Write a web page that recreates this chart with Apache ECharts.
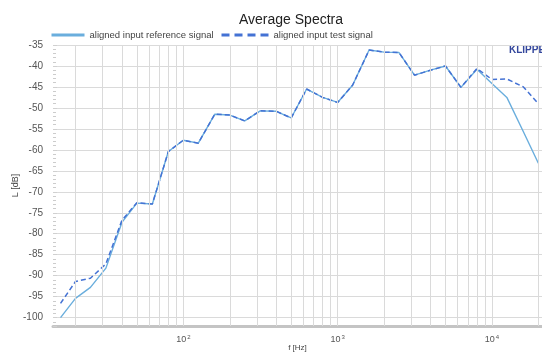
<!DOCTYPE html>
<html>
<head>
<meta charset="utf-8">
<script src="https://cdn.jsdelivr.net/npm/echarts@6/dist/echarts.min.js"></script>
<style>
html,body{margin:0;padding:0;background:#fff;}
#chart{width:542px;height:353px;}
</style>
</head>
<body>
<div id="chart"></div>
<script>
// Frequencies (Hz), 1/3-octave bands
var freqs = [16, 20, 25, 31.5, 40, 50, 63, 80, 100, 125, 160, 200, 250, 315, 400, 500, 630, 800, 1000, 1250, 1600, 2000, 2500, 3150, 4000, 5000, 6300, 8000, 10000, 12500, 16000, 20000];
// Levels in dB
var refSignal = [-100, -95.4, -92.8, -88.2, -77.3, -72.7, -72.9, -60.4, -57.7, -58.4, -51.5, -51.7, -53.1, -50.7, -50.8, -52.4, -45.5, -47.5, -48.7, -44.6, -36.2, -36.7, -36.8, -42.2, -41.0, -40.0, -45.1, -40.8, -44.2, -47.5, -55.7, -63.2];
var testSignal = [-96.6, -91.4, -90.6, -87.2, -76.8, -72.6, -72.9, -60.4, -57.7, -58.4, -51.5, -51.7, -53.1, -50.7, -50.8, -52.4, -45.5, -47.5, -48.7, -44.6, -36.2, -36.7, -36.8, -42.2, -41.0, -40.0, -45.1, -40.6, -43.2, -43.1, -45.0, -49.0];
// Vertical grid line frequencies
var gridFreqs = [20, 30, 40, 50, 60, 70, 80, 90, 100, 200, 300, 400, 500, 600, 700, 800, 900, 1000, 2000, 3000, 4000, 5000, 6000, 7000, 8000, 9000, 10000, 20000];
var seriesNames = ['aligned input reference signal', 'aligned input test signal'];
var titleText = 'Average Spectra';
var xName = 'f [Hz]';
var yName = 'L [dB]';
var brand = 'KLIPPEL';

function pairs(xs, ys) { return xs.map(function (x, i) { return [x, ys[i]]; }); }

var FONT = '"Liberation Sans", Arial, sans-serif';
var chart = echarts.init(document.getElementById('chart'), null, {renderer: 'canvas'});
chart.setOption({
  animation: false,
  textStyle: {fontFamily: FONT},
  title: {
    text: titleText, left: 234, top: 8,
    textStyle: {fontSize: 14, fontWeight: 'normal', color: '#222', fontFamily: FONT}
  },
  legend: [
    {data: [seriesNames[0]], left: 50, top: 30, padding: 0, itemWidth: 33, itemHeight: 10,
     textStyle: {fontSize: 9.5, color: '#444', fontFamily: FONT},
     itemStyle: {opacity: 0},
     lineStyle: {width: 3}},
    {data: [seriesNames[1]], left: 220, top: 30, padding: 0, itemWidth: 47, itemHeight: 10,
     textStyle: {fontSize: 9.5, color: '#444', fontFamily: FONT},
     itemStyle: {opacity: 0},
     lineStyle: {width: 3, type: [8, 5]}}
  ],
  graphic: [{
    type: 'text', left: 509, top: 45, silent: true,
    style: {text: brand, font: 'bold 10px ' + FONT, fill: '#34479c'}
  }],
  grid: {left: 53, right: 0, top: 45, bottom: 27, containLabel: false, outerBoundsMode: 'none'},
  xAxis: {
    type: 'log', logBase: 10, min: 14.3, max: 21120,
    name: xName, nameLocation: 'middle', nameGap: 18, nameMoveOverlap: false,
    nameTextStyle: {fontSize: 8, color: '#444'},
    axisLine: {show: true, lineStyle: {color: '#c4c4c4', width: 3}},
    axisTick: {show: false},
    splitLine: {show: false},
    axisLabel: {
      margin: 8, color: '#555',
      formatter: function (v) {
        var e = Math.log10(v);
        if (Math.abs(e - Math.round(e)) > 1e-6) return '';
        return '{b|10}{s|' + Math.round(e) + '}';
      },
      rich: {
        b: {fontSize: 9, color: '#555', fontFamily: FONT},
        s: {fontSize: 6, color: '#555', fontFamily: FONT, padding: [0, 0, 5, 1]}
      }
    }
  },
  yAxis: {
    type: 'value', min: -102, max: -35, splitNumber: 13,
    name: yName, nameLocation: 'middle', nameGap: 33, nameRotate: 90, nameMoveOverlap: false,
    nameTextStyle: {fontSize: 9, color: '#444'},
    axisLine: {show: false},
    axisTick: {show: true, inside: true, length: 4, lineStyle: {color: '#d0d0d0'}},
    minorTick: {show: true, splitNumber: 5, length: 3, lineStyle: {color: '#cccccc'}},
    splitLine: {show: true, lineStyle: {color: '#dadada', width: 1}},
    axisLabel: {
      margin: 10, fontSize: 10, color: '#555',
      formatter: function (v) { return (Math.round(v) % 5 === 0) ? String(v) : ''; }
    }
  },
  series: [
    {
      name: '_grid', type: 'line', data: [], z: 0, silent: true,
      markLine: {
        silent: true, symbol: ['none', 'none'], label: {show: false},
        lineStyle: {color: '#dadada', type: 'solid', width: 1},
        emphasis: {disabled: true},
        data: gridFreqs.map(function (f) { return {xAxis: f}; })
      }
    },
    {
      name: seriesNames[0], type: 'line', data: pairs(freqs, refSignal),
      symbol: 'none', z: 2,
      lineStyle: {color: '#6aaedd', width: 1.4},
      itemStyle: {color: '#6aaedd'}
    },
    {
      name: seriesNames[1], type: 'line', data: pairs(freqs, testSignal),
      symbol: 'none', z: 3,
      lineStyle: {color: '#4472d4', width: 1.5, type: [5, 3]},
      itemStyle: {color: '#4472d4'}
    }
  ]
});
</script>
</body>
</html>
